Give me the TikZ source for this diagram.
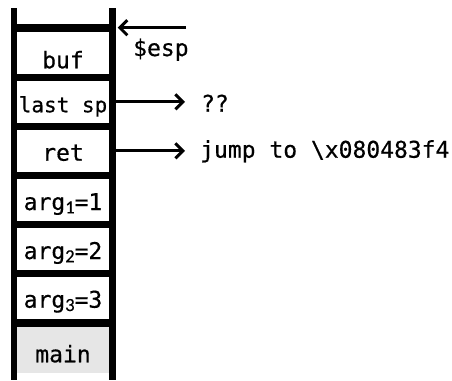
\documentclass[tikz,border=0pt]{standalone}
\usepackage{fontspec}
\setmonofont[FakeBold=0.5]{DejaVu Sans Mono}
\newfontfamily\subfont[FakeBold=0.3]{Carlito}
\usetikzlibrary{arrows.meta}
\definecolor{mainfill}{RGB}{230,230,230}
\tikzset{
  cell/.style={rectangle, inner sep=0pt, minimum width=92pt},
  lbl/.style={font=\fontsize{23}{23}\selectfont\ttfamily, inner sep=0pt, anchor=base},
  side/.style={font=\fontsize{23}{23}\selectfont\ttfamily, inner ysep=0pt, anchor=base west},
  bar/.style={fill=black, draw=none, rectangle, inner sep=0pt},
  arr/.style={line width=3pt, -{Straight Barb[length=7.5pt,width=15pt]}},
}
\newcommand\argsub[1]{\raisebox{-3.3pt}{\fontsize{18.5}{18.5}\subfont #1}}
\begin{document}
\begin{tikzpicture}[x=1pt,y=-1pt]
\useasboundingbox (0,0) rectangle (452,380);
% cells
\node[cell, minimum height=42pt] (c1) at (63,53) {};
\node[cell, minimum height=41.7pt] (c2) at (63,101.85) {};
\node[cell, minimum height=41.7pt] (c3) at (63,150.85) {};
\node[cell, minimum height=41.7pt] (c4) at (63,199.85) {};
\node[cell, minimum height=42pt] (c5) at (63,249) {};
\node[cell, minimum height=42pt] (c6) at (63,298) {};
\node[cell, fill=mainfill, minimum height=45.7pt] (c7) at (63,349.85) {};
% labels
\node[lbl] (t1) at (63,68.3) {buf};
\node[lbl, font=\fontsize{21}{21}\selectfont\ttfamily] (t2) at (63,112.3) {last sp};
\node[lbl] (t3) at (63,160.7) {ret};
\node[lbl] (t4) at (63,210) {arg\argsub{1}=1};
\node[lbl] (t5) at (63,259) {arg\argsub{2}=2};
\node[lbl] (t6) at (63,307.7) {arg\argsub{3}=3};
\node[lbl] (t7) at (63,362.3) {main};
% side texts and arrows
\coordinate (espfrom) at (186,27.7);
\node[side, inner xsep=0pt] (esp) at (133,56) {\$esp};
\node[side, inner xsep=16pt] (qq) at (185,111.7) {??};
\node[side, inner xsep=15pt] (jmp) at (185,157.7) {jump to \textbackslash x080483f4};
\draw[arr] (c2.east) -- (qq.west |- c2.east);
\draw[arr] (c3.east) -- (jmp.west |- c3.east);
% bars
\node[bar, minimum width=6pt, minimum height=372pt, anchor=north west] (lbar) at (11,8) {};
\node[bar, minimum width=7pt, minimum height=372pt, anchor=north west] (rbar) at (109,8) {};
\foreach \yy in {28,77.5,126.4,175.4,224.4,273.5,323}
  \fill (11,\yy-3.75) rectangle (116,\yy+3.75);
\draw[arr] (espfrom) -- ([xshift=1.3pt]rbar.east |- espfrom);
\end{tikzpicture}
\end{document}
